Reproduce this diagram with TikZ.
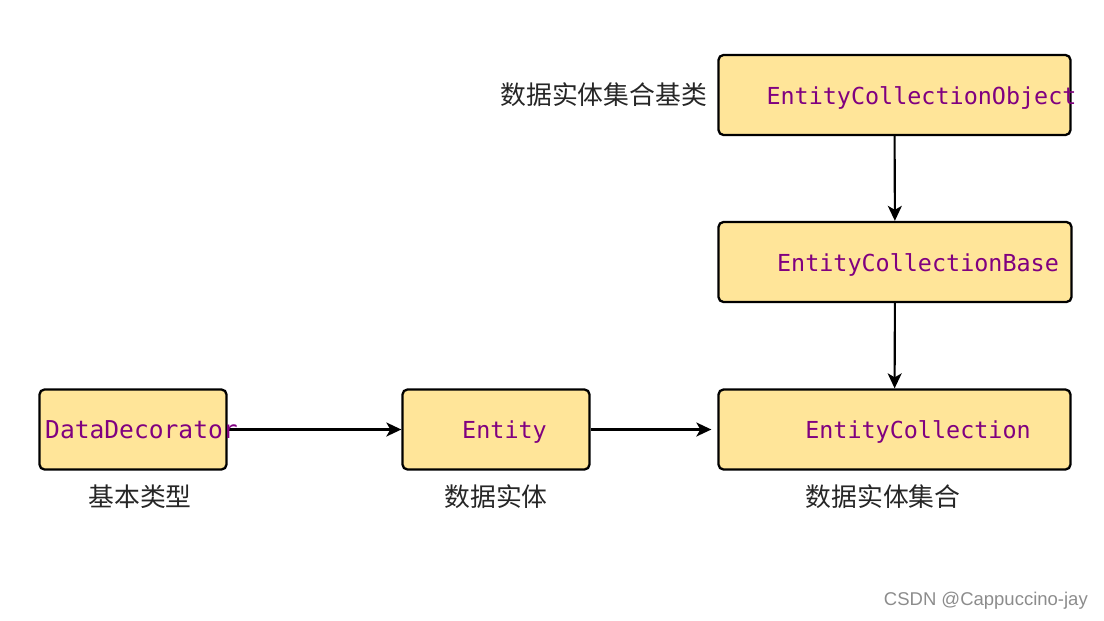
\documentclass[tikz,border=0pt]{standalone}
\usepackage{fontspec}
\setmonofont{DejaVu Sans Mono}
\newfontfamily\cjk{Noto Sans CJK SC}
\newfontfamily\wmfont{Liberation Sans}
\usetikzlibrary{arrows.meta}
\definecolor{boxfill}{RGB}{255,229,153}
\definecolor{codepurple}{RGB}{128,0,128}

\begin{document}
\begin{tikzpicture}[ x=1pt, y=-1pt,
  box/.style={draw=black, line width=2.3pt, rounded corners=5pt, fill=boxfill, inner sep=0pt, minimum height=80pt},
  code/.style={text=codepurple, font=\ttfamily\fontsize{23.4}{28}\selectfont, inner sep=0pt, anchor=base},
  caption/.style={text=black!85, font=\cjk\fontsize{25.8}{30}\selectfont, inner sep=0pt},
  link/.style={-{Stealth[length=15pt,width=14pt,inset=4pt]}, line width=2.1pt} ]

\useasboundingbox (0,0) rectangle (1104,621);

%Boxes
\node [box, minimum width=187pt] (dd)  at (133,429.5) {};
\node [box, minimum width=187pt] (ent) at (496,429.5) {};
\node [box, minimum width=352pt] (ec)  at (894.5,429.5) {};
\node [box, minimum width=353pt] (ecb) at (895,262) {};
\node [box, minimum width=352pt] (eco) at (894.5,95) {};

%Arrows
\draw [link] (dd) -- (ent);
\draw [link, shorten >=6pt] (ent) -- (ec);
\draw [link] (eco) -- (ecb);
\draw [link] (ecb) -- (ec);

%Class names
\node [code, anchor=base west, font=\ttfamily\fontsize{24.6}{28}\selectfont] (dd-t) at (45,438.5) {DataDecorator};
\node [code] (ent-t) at (504.5,438) {Entity};
\node [code] (ec-t)  at (918,438)   {EntityCollection};
\node [code] (ecb-t) at (918,271)   {EntityCollectionBase};
\node [code] (eco-t) at (921.5,104) {EntityCollectionObject};

%Captions
\node [caption, anchor=east] (eco-c) at (707,95) {数据实体集合基类};
\node [caption] (dd-c)  at (140,497) {基本类型};
\node [caption] (ent-c) at (496,497) {数据实体};
\node [caption] (ec-c)  at (883,497) {数据实体集合};

% Watermark
\node [anchor=east, inner sep=0pt, text=black!45, font=\wmfont\fontsize{18.5}{22}\selectfont] (mark) at (1088,601) {CSDN @Cappuccino-jay};

\end{tikzpicture}
\end{document}
